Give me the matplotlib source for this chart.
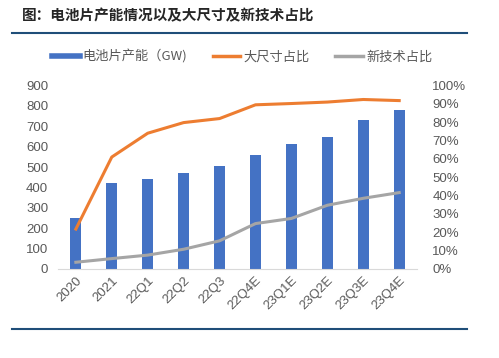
import numpy as np
import matplotlib
matplotlib.use("Agg")
import matplotlib.pyplot as plt
from matplotlib.lines import Line2D

plt.rcParams['font.family'] = ['Noto Sans CJK SC', 'DejaVu Sans']

# data
periods = ["2020", "2021", "22Q1", "22Q2", "22Q3", "22Q4E", "23Q1E", "23Q2E", "23Q3E", "23Q4E"]
capacity_gw = [249, 422, 440, 473, 506, 561, 612, 646, 730, 779]
large_size_pct = [21.7, 61.0, 74.0, 79.8, 82.0, 89.5, 90.2, 91.0, 92.4, 91.8]
new_tech_pct = [3.6, 5.6, 7.5, 10.7, 15.3, 24.7, 27.5, 34.7, 38.5, 41.6]

blue = "#4472C4"
orange = "#ED7D31"
gray = "#A5A5A5"
tick_color = "#595959"

fig = plt.figure(figsize=(4.99, 3.58), dpi=100)
ax = fig.add_axes([0.116, 0.249, 0.72, 0.512])
ax2 = ax.twinx()

x = np.arange(len(periods))
ax.bar(x, capacity_gw, width=0.31, color=blue, zorder=2)
ax2.plot(x, large_size_pct, color=orange, lw=2.2, zorder=3)
ax2.plot(x, new_tech_pct, color=gray, lw=2.2, zorder=3)

ax.set_xlim(-0.5, len(periods) - 0.5)
ax.set_ylim(0, 900)
ax.set_yticks(np.arange(0, 901, 100))
ax2.set_ylim(0, 100)
ax2.set_yticks(np.arange(0, 101, 10))
ax2.set_yticklabels([f"{v}%" for v in range(0, 101, 10)])

ax.set_xticks(x)
ax.set_xticklabels(periods, rotation=45, ha="right", rotation_mode="anchor")

for a in (ax, ax2):
    for s in a.spines.values():
        s.set_visible(False)
    a.tick_params(length=0, colors=tick_color, labelsize=9.5)
    for lbl in a.get_xticklabels() + a.get_yticklabels():
        lbl.set_family(['Liberation Sans', 'DejaVu Sans'])
ax.spines["bottom"].set_visible(True)
ax.spines["bottom"].set_color("#D9D9D9")
ax.tick_params(axis="x", pad=4)
ax.tick_params(axis="y", pad=7)
ax2.tick_params(axis="y", pad=11)
ax.set_zorder(ax2.get_zorder() - 1)
ax2.patch.set_visible(False)

# title and rules
fig.text(0.044, 0.957, "图：电池片产能情况以及大尺寸及新技术占比", fontsize=10.5,
         fontweight="bold", color="#262626", va="center", ha="left")
fig.add_artist(Line2D([0.024, 0.936], [0.909, 0.909], color="#1F4E79", lw=1.5))
fig.add_artist(Line2D([0.024, 0.936], [0.081, 0.081], color="#1F4E79", lw=1.5))

handles = [Line2D([], [], color=blue, lw=4),
           Line2D([], [], color=orange, lw=2.5),
           Line2D([], [], color=gray, lw=2.5)]
labels = ["电池片产能（GW)", "大尺寸占比", "新技术占比"]
fig.legend(handles, labels, loc="center", bbox_to_anchor=(0.485, 0.842), ncol=3,
           frameon=False, fontsize=9.5, handlelength=2.1, handletextpad=0.25,
           columnspacing=1.9, labelcolor=tick_color)

fig.savefig("out.png", dpi=100)
